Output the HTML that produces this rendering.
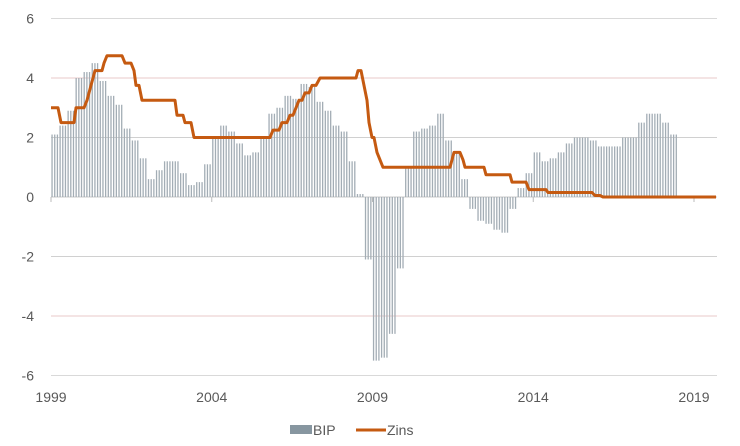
<!DOCTYPE html>
<html><head><meta charset="utf-8"><style>
html,body{margin:0;padding:0;background:#fff;}
svg{display:block;font-family:"Liberation Sans",sans-serif;}
</style></head><body>
<svg id="c" width="740" height="446" viewBox="0 0 740 446" xmlns="http://www.w3.org/2000/svg">
<g id="grid"></g>
<g id="bars" fill="#a3adb5"></g>
<g id="lab" font-size="14" fill="#595959"></g>
<polyline id="zins" fill="none" stroke="#c55a11" stroke-width="3" stroke-linejoin="round"/>
<rect x="290" y="425" width="22" height="9" fill="#8796a0"/>
<text x="313" y="435" font-size="14" fill="#595959">BIP</text>
<line x1="356" y1="430" x2="386" y2="430" stroke="#c55a11" stroke-width="3"/>
<text x="387" y="435" font-size="14" fill="#595959">Zins</text>
</svg>
<script>
var ns="http://www.w3.org/2000/svg";
function Y(v){return 197-v*29.75;}
function el(t,a,p){var e=document.createElementNS(ns,t);for(var k in a)e.setAttribute(k,a[k]);document.getElementById(p).appendChild(e);return e;}
var gc={6:"#d9d9d9",4:"#e8c8c8",2:"#d0d0d0",0:"#d9d9d9","-2":"#d0d0d0","-4":"#e8c8c8","-6":"#d9d9d9"};
for(var v=6;v>=-6;v-=2){
 el("line",{x1:51,x2:717,y1:Y(v),y2:Y(v),stroke:gc[v],"stroke-width":1},"grid");
 var t=el("text",{x:34,y:Y(v)+5,"text-anchor":"end"},"lab");t.textContent=v;
}
el("line",{x1:51,x2:717,y1:197,y2:197,stroke:"#c8c8c8","stroke-width":1},"grid");
var yrs=[1999,2004,2009,2014,2019];
yrs.forEach(function(y,i){var x=51+i*160.75;el("line",{x1:x,x2:x,y1:197,y2:202,stroke:"#bbb"},"grid");
 var t=el("text",{x:x,y:402,"text-anchor":"middle"},"lab");t.textContent=y;});
var q=[2.1,2.4,2.9,4.0,4.2,4.5,3.9,3.4,3.1,2.3,1.9,1.3,0.6,0.9,1.2,1.2,0.8,0.4,0.5,1.1,
2.0,2.4,2.2,1.8,1.4,1.5,2.0,2.8,3.0,3.4,3.3,3.8,3.7,3.2,2.9,2.4,2.2,1.2,0.1,-2.1,
-5.5,-5.4,-4.6,-2.4,1.0,2.2,2.3,2.4,2.8,1.9,1.5,0.6,-0.4,-0.8,-0.9,-1.1,-1.2,-0.4,0.3,0.8,
1.5,1.2,1.3,1.5,1.8,2.0,2.0,1.9,1.7,1.7,1.7,2.0,2.0,2.5,2.8,2.8,2.5,2.1];
var mw=643/240;
q.forEach(function(v,i){for(var m=0;m<3;m++){var x=51+(i*3+m)*mw+0.4;
 var y0=Y(Math.max(v,0)),h=Math.abs(v)*29.75;
 el("rect",{x:x.toFixed(2),y:y0.toFixed(2),width:1.3,height:Math.max(h,0.5).toFixed(2)},"bars");}});
var z=[[51,3],[58,3],[61,2.5],[74,2.5],[76,3],[84,3],[87,3.25],[89,3.5],[91,3.75],[93,4],[95,4.25],[102,4.25],[104,4.5],[107,4.75],[122,4.75],[125,4.5],[131,4.5],[134,4.25],[136,3.75],[139,3.75],[142,3.25],[175,3.25],[177,2.75],[183,2.75],[185,2.5],[191,2.5],[194,2],[270,2],[273,2.25],[279,2.25],[282,2.5],[287,2.5],[290,2.75],[293,2.75],[296,3],[299,3.25],[302,3.25],[305,3.5],[309,3.5],[312,3.75],[316,3.75],[320,4],[356,4],[358,4.25],[361,4.25],[364,3.75],[367,3.25],[369,2.5],[372,2],[374,2],[377,1.5],[383,1],[450,1],[452,1.25],[454,1.5],[460,1.5],[463,1.25],[465,1],[484,1],[486,0.75],[510,0.75],[512,0.5],[526,0.5],[529,0.25],[546,0.25],[548,0.15],[592,0.15],[595,0.05],[600,0.05],[603,0],[716,0]];
document.getElementById("zins").setAttribute("points",z.map(function(p){return p[0]+","+Y(p[1]).toFixed(1);}).join(" "));
</script>
</body></html>
